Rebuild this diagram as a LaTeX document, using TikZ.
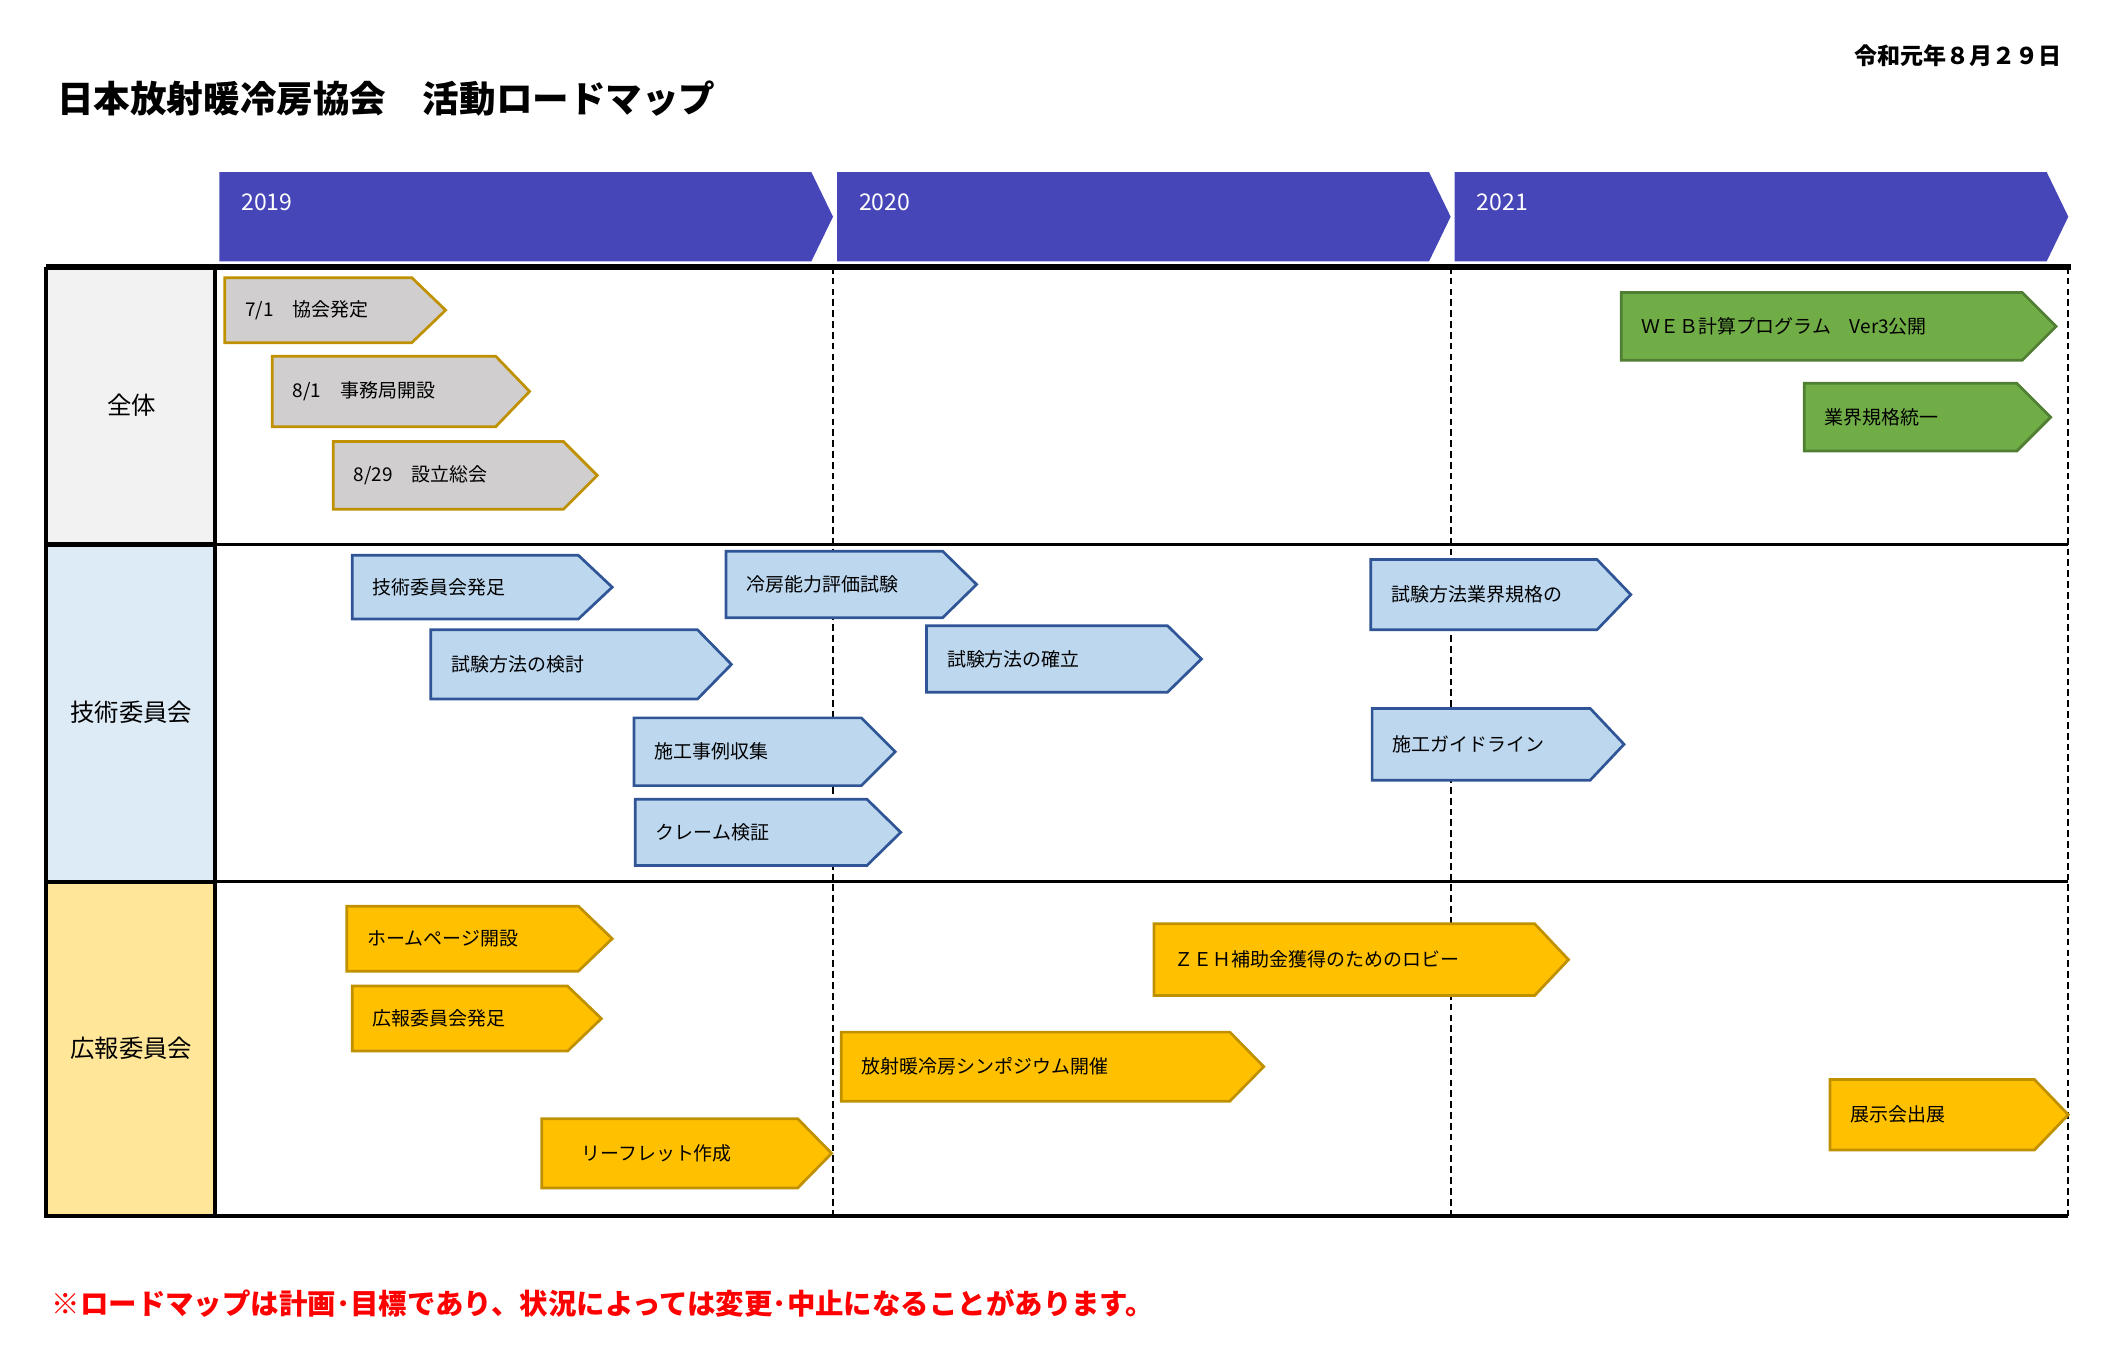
\documentclass[tikz,border=0pt]{standalone}
\usepackage{fontspec}
\setmainfont{Noto Sans CJK JP}
\definecolor{cgray}{RGB}{208,206,206}
\definecolor{cgold}{RGB}{191,144,0}
\definecolor{cgreen}{RGB}{112,173,71}
\definecolor{cdgreen}{RGB}{80,126,50}
\definecolor{cblue}{RGB}{189,215,238}
\definecolor{cdblue}{RGB}{47,85,151}
\definecolor{corange}{RGB}{255,192,0}
\definecolor{cband}{RGB}{70,70,185}
\definecolor{lg}{RGB}{242,242,242}
\definecolor{lb}{RGB}{221,235,247}
\definecolor{ly}{RGB}{255,230,153}
\begin{document}
\begin{tikzpicture}[x=1pt,y=-1pt,
  sgray/.style={fill=cgray,draw=cgold,line width=2pt},
  sgreen/.style={fill=cgreen,draw=cdgreen,line width=2pt},
  sblue/.style={fill=cblue,draw=cdblue,line width=2pt},
  sorange/.style={fill=corange,draw=cgold,line width=2pt},
  band/.style={fill=cband},
  lbl/.style={font=\fontsize{14}{16}\selectfont,anchor=west,inner sep=0pt},
  vdash/.style={line width=1.5pt,dash pattern=on 5pt off 3pt}]
\useasboundingbox (0,0) rectangle (1560,1008);
\newcommand{\myarr}[7]{%
  \path[#6] (#2,#3) -- (#4-25,#3) -- (#4,{(#3+#5)/2}) -- (#4-25,#5) -- (#2,#5) -- cycle;
  \node[lbl] (#1) at (#2+15,{(#3+#5)/2}) {#7};}
% title
\node[anchor=west,font=\bfseries\fontsize{27}{30}\selectfont,inner sep=0pt] (title) at (42,73) {日本放射暖冷房協会　活動ロードマップ};
\node[anchor=east,font=\bfseries\fontsize{17}{20}\selectfont,inner sep=0pt] (date) at (1522,41) {令和元年８月２９日};
% banners
\foreach \a/\y in {162/2019,618/2020,1074/2021}{
  \fill[band] (\a,127) -- (\a+437,127) -- (\a+453,160) -- (\a+437,193) -- (\a,193) -- cycle;
  \node[lbl,text=white,font=\fontsize{17}{20}\selectfont] (y\y) at (\a+16,149) {\y};}
% label column fills
\fill[lg] (34,197) rectangle (159,402);
\fill[lb] (34,402) rectangle (159,651);
\fill[ly] (34,651) rectangle (159,898);
\node[font=\fontsize{18}{20}\selectfont] (r1) at (97,299) {全体};
\node[font=\fontsize{18}{20}\selectfont] (r2) at (97,526) {技術委員会};
\node[font=\fontsize{18}{20}\selectfont] (r3) at (97,774) {広報委員会};
% grid
\draw[vdash] (615,197) -- (615,898);
\draw[vdash] (1071,197) -- (1071,898);
\draw[vdash] (1527,197) -- (1527,898);
\draw[line width=2pt] (159,402) -- (1527,402);
\draw[line width=2pt] (159,651) -- (1527,651);
\draw[line width=3pt] (34,197) -- (34,898) -- (1527,898);
\draw[line width=3pt] (159,197) -- (159,898);
\draw[line width=4pt] (34,197) -- (1529,197);
\draw[line width=3pt] (34,402) -- (159,402) (34,651) -- (159,651);
% arrows
\myarr{a1}{166}{205}{329}{253}{sgray}{7/1　協会発定}
\myarr{a2}{201}{263}{391}{315}{sgray}{8/1　事務局開設}
\myarr{a3}{246}{326}{441}{376}{sgray}{8/29　設立総会}
\myarr{g1}{1197}{216}{1518}{266}{sgreen}{ＷＥＢ計算プログラム　Ver3公開}
\myarr{g2}{1332}{283}{1514}{333}{sgreen}{業界規格統一}
\myarr{b1}{260}{410}{452}{457}{sblue}{技術委員会発足}
\myarr{b2}{318}{465}{540}{516}{sblue}{試験方法の検討}
\myarr{b3}{536}{407}{721}{456}{sblue}{冷房能力評価試験}
\myarr{b4}{684}{462}{887}{511}{sblue}{試験方法の確立}
\myarr{b5}{468}{530}{661}{580}{sblue}{施工事例収集}
\myarr{b6}{469}{590}{665}{639}{sblue}{クレーム検証}
\myarr{b7}{1012}{413}{1204}{465}{sblue}{試験方法業界規格の}
\myarr{b8}{1013}{523}{1199}{576}{sblue}{施工ガイドライン}
\myarr{o1}{256}{669}{452}{717}{sorange}{ホームページ開設}
\myarr{o2}{260}{728}{444}{776}{sorange}{広報委員会発足}
\myarr{o3}{400}{826}{614}{877}{sorange}{　リーフレット作成}
\myarr{o4}{852}{682}{1158}{735}{sorange}{ＺＥＨ補助金獲得のためのロビー}
\myarr{o5}{621}{762}{933}{813}{sorange}{放射暖冷房シンポジウム開催}
\myarr{o6}{1351}{797}{1527}{849}{sorange}{展示会出展}
% footnote
\node[anchor=west,inner sep=0pt,text=red,font=\bfseries\fontsize{21}{24}\selectfont] (note) at (38,962) {※ロードマップは計画･目標であり、状況によっては変更･中止になることがあります。};
\end{tikzpicture}
\end{document}
